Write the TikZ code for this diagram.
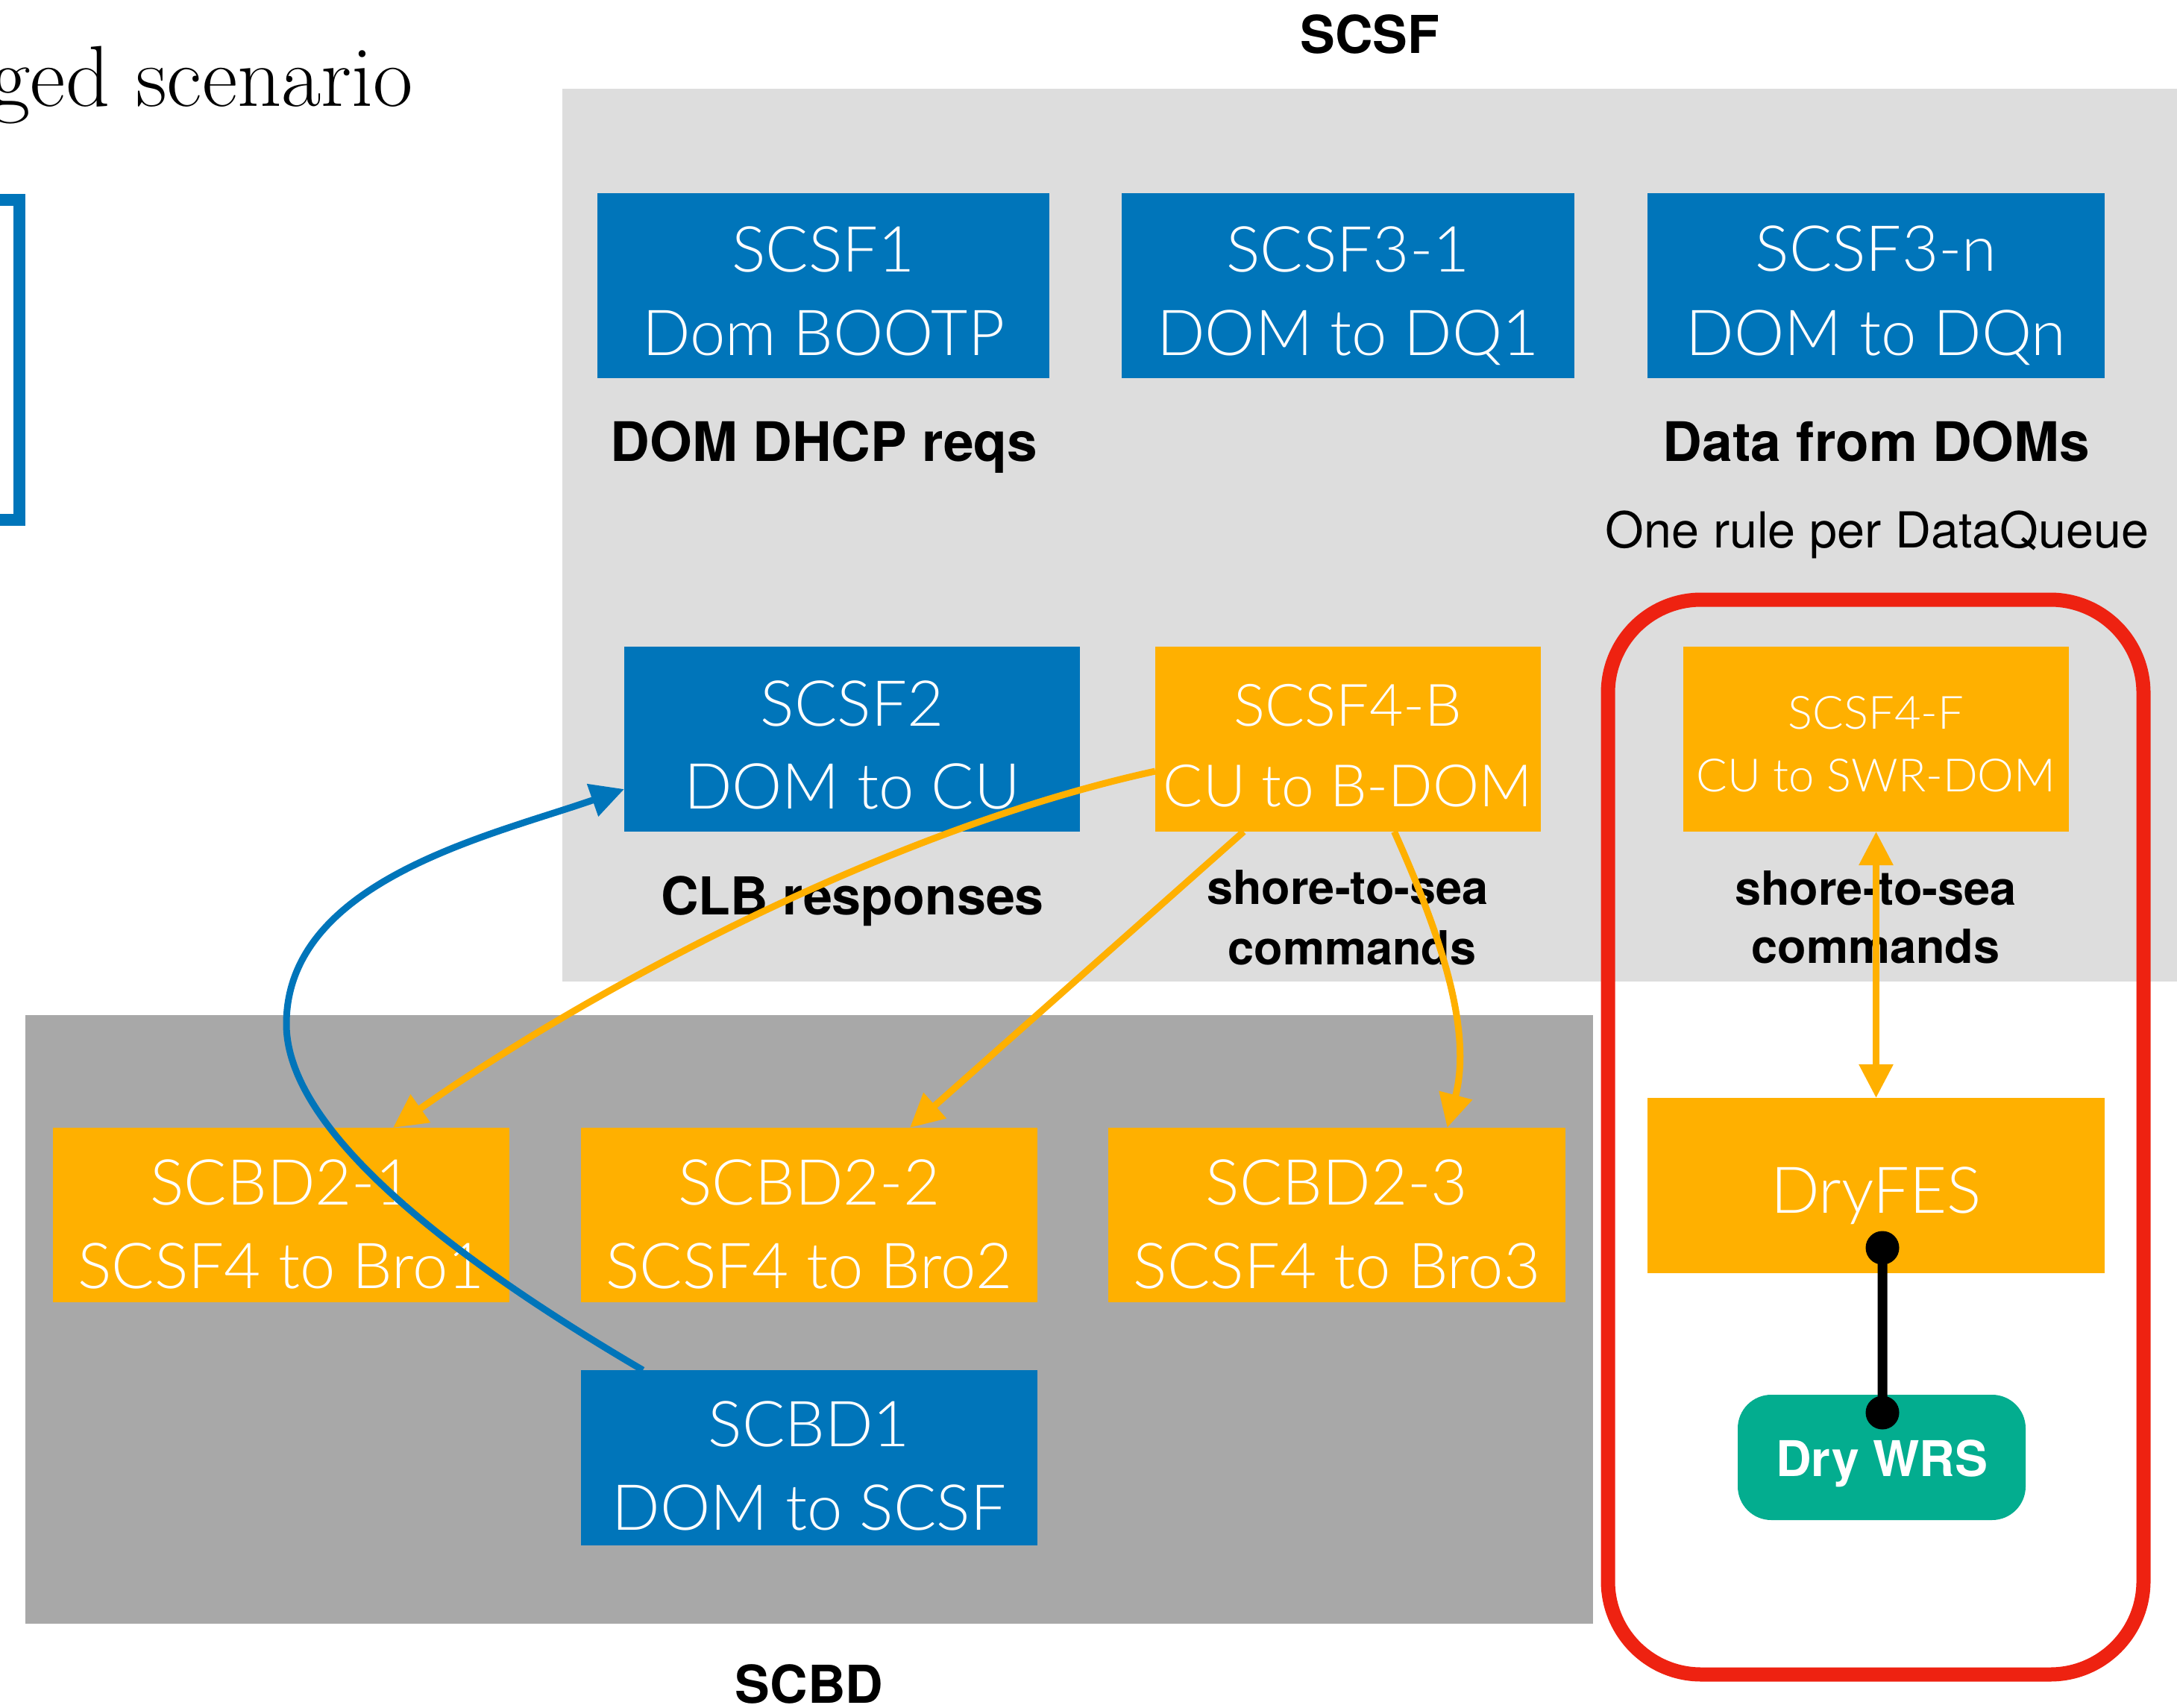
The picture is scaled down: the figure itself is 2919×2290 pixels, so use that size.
\documentclass[tikz,border=0pt]{standalone}
\usepackage{fontspec}
% thin sans for the white box texts, first family found wins
\IfFontExistsTF{Lato Light}{\newfontfamily\lightsf{Lato Light}}{%
  \IfFontExistsTF{Noto Sans Light}{\newfontfamily\lightsf{Noto Sans Light}}{%
    \IfFontExistsTF{Open Sans Light}{\newfontfamily\lightsf{Open Sans Light}}{%
      \IfFontExistsTF{Fira Sans Light}{\newfontfamily\lightsf{Fira Sans Light}}{%
        \newfontfamily\lightsf{TeX Gyre Heros}}}}}
\newfontfamily\gyreheros{TeX Gyre Heros}
\usetikzlibrary{arrows.meta,calc}

\definecolor{boxblue}{HTML}{0075BA}
\definecolor{boxorange}{HTML}{FFB000}
\definecolor{panellight}{HTML}{DDDDDD}
\definecolor{paneldark}{HTML}{A8A8A8}
\definecolor{framered}{HTML}{EE2211}
\definecolor{wrsgreen}{HTML}{03AD8F}

\begin{document}
\begin{tikzpicture}[x=0.2pt,y=-0.2pt,
  plainbox/.style={draw=none, inner sep=0pt, outer sep=0pt},
  bluebox/.style={plainbox, fill=boxblue},
  orangebox/.style={plainbox, fill=boxorange},
  boxtxt/.style={anchor=base, inner sep=0pt, text=white,
    font=\lightsf\fontsize{17}{20}\selectfont},
  smallboxtxt/.style={boxtxt, font=\lightsf\fontsize{15.7}{19}\selectfont},
  tinyboxtxt/.style={boxtxt, font=\lightsf\fontsize{12.3}{15}\selectfont},
  boldlbl/.style={anchor=base, inner sep=0pt, font=\gyreheros\bfseries\fontsize{14.6}{17}\selectfont},
  cmdlbl/.style={boldlbl, font=\gyreheros\bfseries\fontsize{12.6}{15}\selectfont},
  headlbl/.style={boldlbl, font=\gyreheros\bfseries\fontsize{14}{17}\selectfont},
  tip/.tip={Triangle[length=9pt,width=8.8pt]},
  bluearr/.style={draw=boxblue, line width=1.8pt, -tip},
  orangearr/.style={draw=boxorange, line width=1.8pt, -tip},
]
\useasboundingbox (0,0) rectangle (2919,2290);
\fill[white] (0,0) rectangle (2919,2290);

% title fragment and bracket at the left edge
\node[anchor=base east, inner sep=0pt, font=\rmfamily\fontsize{23.2}{27}\selectfont]
  (title) at (555,143) {ged scenario};
\draw[boxblue, line width=3.2pt] (-100,268) -- (26,268) -- (26,697) -- (-100,697);

% panels
\fill[panellight] (754,119) rectangle (2940,1316);
\fill[paneldark] (34,1361) rectangle (2136,2177);
\node[headlbl] (scsflbl) at (1837,72) {SCSF};
\node[headlbl] (scbdlbl) at (1085,2283) {SCBD};

% SCSF rules, top row
\node[bluebox, minimum width=121.2pt, minimum height=49.6pt] (scsf1) at (1104,383) {};
\node[boxtxt] at ($(scsf1.north)+(0,106)$) {SCSF1};
\node[boxtxt] at ($(scsf1.north)+(0,218)$) {Dom BOOTP};

\node[bluebox, minimum width=121.4pt, minimum height=49.6pt] (scsf31) at (1807.5,383) {};
\node[boxtxt] at ($(scsf31.north)+(0,106)$) {SCSF3-1};
\node[boxtxt] at ($(scsf31.north)+(0,218)$) {DOM to DQ1};

\node[bluebox, minimum width=122.6pt, minimum height=49.6pt] (scsf3n) at (2515.5,383) {};
\node[boxtxt] at ($(scsf3n.north)+(0,105)$) {SCSF3-n};
\node[boxtxt] at ($(scsf3n.north)+(0,218)$) {DOM to DQn};

\node[boldlbl] (dhcp) at (1105,619) {DOM DHCP reqs};
\node[boldlbl] (ddoms) at (2516,619) {Data from DOMs};
\node[anchor=base, inner sep=0pt, font=\gyreheros\fontsize{13.3}{16}\selectfont]
  (onerule) at (2517,735) {One rule per DataQueue};

% SCSF rules, second row
\node[bluebox, minimum width=122.2pt, minimum height=49.6pt] (scsf2) at (1142.5,991) {};
\node[boxtxt] at ($(scsf2.north)+(0,106)$) {SCSF2};
\node[boxtxt] at ($(scsf2.north)+(0,217)$) {DOM to CU};

\node[orangebox, minimum width=103.4pt, minimum height=49.6pt] (f4b) at (1807.5,991) {};
\node[smallboxtxt] at ($(f4b.north)+(0,107)$) {SCSF4-B};
\node[smallboxtxt] at ($(f4b.north)+(0,214)$) {CU to B-DOM};

\node[orangebox, minimum width=103.4pt, minimum height=49.6pt] (f4f) at (2515.5,991) {};
\node[tinyboxtxt] at ($(f4f.north)+(0,110)$) {SCSF4-F};
\node[tinyboxtxt] at ($(f4f.north)+(0,194)$) {CU to SWR-DOM};

\node[boldlbl, font=\gyreheros\bfseries\fontsize{14}{17}\selectfont] (clb) at (1143,1226) {CLB responses};
\node[cmdlbl] (stsa) at (1807,1212) {shore-to-sea};
\node[cmdlbl] (cmda) at (1813,1293) {commands};
\node[cmdlbl] (stsb) at (2515,1213) {shore-to-sea};
\node[cmdlbl] (cmdb) at (2515,1291) {commands};

% SCBD rules
\node[orangebox, minimum width=122.4pt, minimum height=46.8pt] (s21) at (377,1629) {};
\node[boxtxt] at ($(s21.north)+(0,103)$) {SCBD2-1};
\node[boxtxt] at ($(s21.north)+(0,215)$) {SCSF4 to Bro1};

\node[orangebox, minimum width=122.4pt, minimum height=46.8pt] (s22) at (1085,1629) {};
\node[boxtxt] at ($(s22.north)+(0,103)$) {SCBD2-2};
\node[boxtxt] at ($(s22.north)+(0,215)$) {SCSF4 to Bro2};

\node[orangebox, minimum width=122.6pt, minimum height=46.8pt] (s23) at (1792.5,1629) {};
\node[boxtxt] at ($(s23.north)+(0,103)$) {SCBD2-3};
\node[boxtxt] at ($(s23.north)+(0,215)$) {SCSF4 to Bro3};

\node[bluebox, minimum width=122.4pt, minimum height=47pt] (scbd1) at (1085,1954.5) {};
\node[boxtxt] at ($(scbd1.north)+(0,102)$) {SCBD1};
\node[boxtxt] at ($(scbd1.north)+(0,214)$) {DOM to SCSF};

% front-end side
\node[orangebox, minimum width=122.6pt, minimum height=47pt] (dryfes) at (2515.5,1589.5) {};
\node[boxtxt, font=\lightsf\fontsize{17.3}{21}\selectfont] at ($(dryfes.north)+(0,154)$) {DryFES};

\node[plainbox, fill=wrsgreen, rounded corners=9pt, minimum width=77.2pt, minimum height=33.6pt]
  (wrs) at (2523,1954) {};
\node[anchor=base, inner sep=0pt, text=white, font=\gyreheros\bfseries\fontsize{13.2}{16}\selectfont]
  at ($(wrs.north)+(0,109)$) {Dry WRS};

\draw[framered, line width=3.8pt, rounded corners=25pt] (2156,804) rectangle (2874,2245);

% connectors
\draw[bluearr] ($(scbd1.north west)+(83,0)$)
  .. controls (560,1660) and (384,1500) .. (384,1373)
  .. controls (384,1180) and (660,1120) .. ($(scsf2.west)+(0,67)$);
\draw[orangearr] ($(f4b.west)+(0,43)$)
  .. controls (1200,1110) and (800,1320) .. ($(s21.north)+(150,0)$);
\draw[orangearr] ($(f4b.south)+(-140,0)$) -- ($(s22.north)+(135,0)$);
\draw[orangearr] ($(f4b.south)+(62,0)$)
  .. controls (1930,1250) and (1975,1380) .. ($(s23.north)+(148,0)$);
\draw[orangearr, tip-tip] (f4f.south) -- (dryfes.north);

\coordinate (pa) at ($(dryfes.south)+(8.5,-34)$);
\coordinate (pb) at ($(wrs.north)+(1,24)$);
\draw[line width=2.6pt] (pa) -- (pb);
\fill (pa) circle (4.5pt);
\fill (pb) circle (4.5pt);
\end{tikzpicture}
\end{document}
